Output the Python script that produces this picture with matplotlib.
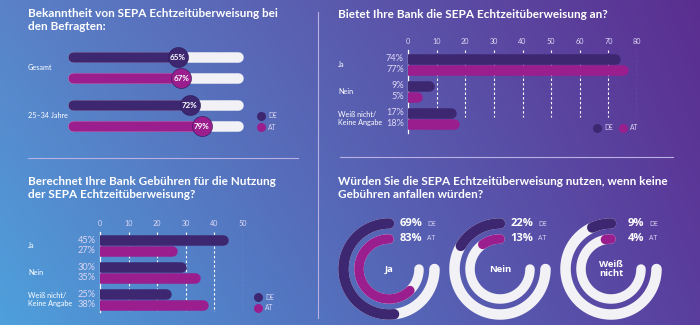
import numpy as np
import matplotlib.pyplot as plt
from matplotlib.colors import to_rgb

W, H = 700, 325

# Bekanntheit von SEPA Echtzeitüberweisung
aware_groups = ['Gesamt', '25–34 Jahre']
aware_de = [65, 72]
aware_at = [67, 79]

# Bietet Ihre Bank die SEPA Echtzeitüberweisung an?
offer_cats = ['Ja', 'Nein', 'Weiß nicht/\nKeine Angabe']
offer_de = [74, 9, 17]
offer_at = [77, 5, 18]

# Berechnet Ihre Bank Gebühren?
fee_cats = ['Ja', 'Nein', 'Weiß nicht/\nKeine Angabe']
fee_de = [45, 30, 25]
fee_at = [27, 35, 38]

# Würden Sie die SEPA Echtzeitüberweisung nutzen?
use_cats = ['Ja', 'Nein', 'Weiß\nnicht']
use_de = [69, 22, 9]
use_at = [83, 13, 4]

DE_COLOR = '#3d2771'
AT_COLOR = '#9b1e8e'
TRACK = '#f2f1f5'
TXT = '#ddd7f3'
LINE = '#b9b1e3'
PT = 0.72  # points per pixel at dpi 100

plt.rcParams['font.family'] = ['Lato', 'DejaVu Sans']

fig = plt.figure(figsize=(7, 3.25), dpi=100)


def rect(x0, y0, x1, y1):
    return [x0 / W, 1 - y1 / H, (x1 - x0) / W, (y1 - y0) / H]


# background with diagonal gradient
bg = fig.add_axes([0, 0, 1, 1])
bg.set_xlim(0, W)
bg.set_ylim(H, 0)
bg.axis('off')
tl, tr = np.array(to_rgb('#5a82c8')), np.array(to_rgb('#5b2e90'))
bl, br = np.array(to_rgb('#4ea0dc')), np.array(to_rgb('#5a3e9e'))
yy, xx = np.mgrid[0:1:160j, 0:1:350j]
xx, yy = xx[..., None], yy[..., None]
grad = tl * (1 - xx) * (1 - yy) + tr * xx * (1 - yy) + bl * (1 - xx) * yy + br * xx * yy
bg.imshow(grad, extent=[0, W, H, 0], aspect='auto', zorder=0, interpolation='bilinear')

# dividers
bg.plot([28, 298], [158, 158], color=LINE, lw=0.8)
bg.plot([340, 673], [157, 157], color=LINE, lw=0.8)
bg.plot([318, 318], [12, 318], color=LINE, lw=0.8)

title_kw = dict(color='white', fontsize=8.5, fontweight='bold', va='top', ha='left',
                linespacing=1.2)
bg.text(28, 8, 'Bekanntheit von SEPA Echtzeitüberweisung bei\nden Befragten:', **title_kw)
bg.text(338, 9, 'Bietet Ihre Bank die SEPA Echtzeitüberweisung an?', **title_kw)
bg.text(28, 176, 'Berechnet Ihre Bank Gebühren für die Nutzung\nder SEPA Echtzeitüberweisung?', **title_kw)
bg.text(338, 176, 'Würden Sie die SEPA Echtzeitüberweisung nutzen, wenn keine\nGebühren anfallen würden?', **title_kw)

cat_kw = dict(color='white', fontsize=5.2, va='center', ha='left', linespacing=1.1)


def legend_dot(x, y, color, label):
    bg.plot(x, y, 'o', ms=9 * PT, color=color, mec='none')
    bg.text(x + 7, y, label, color=TXT, fontsize=4.8, va='center', ha='left')


# ---- Panel 1: awareness sliders
px_unit = 1.69
ax1 = fig.add_axes(rect(60, 45, 250, 140))
ax1.set_xlim((60 - 68) / px_unit, (250 - 68) / px_unit)
ax1.set_ylim(1.51, -0.47)
ax1.axis('off')
cap = 5.25 / px_unit
lw = 10.5 * PT
off = 0.219
for i, (d, a) in enumerate(zip(aware_de, aware_at)):
    for y, v, c in [(i - off, d, DE_COLOR), (i + off, a, AT_COLOR)]:
        ax1.plot([cap, (243 - 68) / px_unit - cap], [y, y], color=TRACK, lw=lw,
                 solid_capstyle='round', zorder=2)
        ax1.plot([cap, v], [y, y], color=c, lw=lw, solid_capstyle='round', zorder=3)
        ax1.scatter([v], [y], s=(20 * PT) ** 2, color=c, edgecolor='#2a1a55', lw=0.4, zorder=4)
        ax1.text(v, y, f'{v}%', color='white', fontsize=5.8, fontweight='bold',
                 ha='center', va='center', zorder=5)
    bg.text(28, 67.5 + 48 * i, aware_groups[i], **cat_kw)
legend_dot(261, 116, DE_COLOR, 'DE')
legend_dot(261, 127, AT_COLOR, 'AT')


# ---- horizontal bar panels
def bar_panel(box, xmax, de, at, y0, grid_bottom):
    x0, top, x1, bottom = box
    ax = fig.add_axes(rect(x0, top, x1, bottom))
    unit = (x1 - x0) / xmax
    spacing = 27
    ax.set_xlim(0, xmax)
    ax.set_ylim((bottom - y0) / spacing, (top - y0) / spacing)
    ax.patch.set_alpha(0)
    for s in ['top', 'right', 'bottom']:
        ax.spines[s].set_visible(False)
    ax.spines['left'].set_color('white')
    ax.spines['left'].set_linewidth(0.9)
    ax.xaxis.tick_top()
    ax.set_xticks(range(0, xmax + 1, 10))
    ax.tick_params(axis='x', length=0, pad=3.5, labelsize=5.2, labelcolor=TXT)
    ax.set_yticks([])
    ax.vlines(range(10, xmax + 1, 10), (top - y0) / spacing, (grid_bottom - y0) / spacing,
              colors='white', linestyles=(0, (2.2, 2)), lw=0.8, zorder=1)
    cap = 5.25 / unit
    off = 5.3 / spacing
    for i, (d, a) in enumerate(zip(de, at)):
        for y, v, c in [(i - off, d, DE_COLOR), (i + off, a, AT_COLOR)]:
            ax.plot([0, v - cap], [y, y], color=c, lw=10.5 * PT,
                    solid_capstyle='round', zorder=3)
            ax.annotate(f'{v}%', xy=(0, y), xytext=(-3, 0), textcoords='offset points',
                        ha='right', va='center', color=TXT, fontsize=6.6)
    return ax


bar_panel((408, 50, 637, 133), 80, offer_de, offer_at, 64.25, 117)
for i, c in enumerate(offer_cats):
    bg.text(338, 64.25 + 27 * i, c, **cat_kw)
legend_dot(597, 128, DE_COLOR, 'DE')
legend_dot(623, 128, AT_COLOR, 'AT')

bar_panel((100, 232, 243, 312), 50, fee_de, fee_at, 245.5, 312)
for i, c in enumerate(fee_cats):
    bg.text(28, 245.5 + 27 * i, c, **cat_kw)
legend_dot(258, 297, DE_COLOR, 'DE')
legend_dot(258, 308, AT_COLOR, 'AT')

# ---- radial bars
centers = [389, 500, 611]
cy = 269
for cx, cat, d, a in zip(centers, use_cats, use_de, use_at):
    ax = fig.add_axes(rect(cx - 60, cy - 60, cx + 60, cy + 60), projection='polar')
    ax.set_theta_zero_location('N')
    ax.set_theta_direction(1)
    ax.set_ylim(0, 60)
    ax.axis('off')
    ax.patch.set_alpha(0)
    for r, v, c, w in [(45.5, d, DE_COLOR, 10.5), (30, a, AT_COLOR, 9.5)]:
        t = np.radians(np.linspace(0, 270, 300))
        ax.plot(t, np.full_like(t, r), color=TRACK, lw=w * PT, solid_capstyle='round', zorder=2)
        t = np.radians(np.linspace(0, 270 * v / 100, 300))
        ax.plot(t, np.full_like(t, r), color=c, lw=w * PT, solid_capstyle='round', zorder=3)
    bg.text(cx, cy, cat, color='white', fontsize=6.8, fontweight='bold',
            ha='center', va='center', linespacing=1.1, family=['Open Sans', 'DejaVu Sans'])
    for y, v, lab in [(cy - 45, d, 'DE'), (cy - 30.5, a, 'AT')]:
        bg.text(cx + 33, y, f'{v}%', color='white', fontsize=8, fontweight='bold',
                ha='right', va='center', family=['Open Sans', 'DejaVu Sans'])
        bg.text(cx + 38, y + 0.5, lab, color=TXT, fontsize=5, ha='left', va='center',
                family=['Open Sans', 'DejaVu Sans'])

fig.savefig('out.png', dpi=100)
